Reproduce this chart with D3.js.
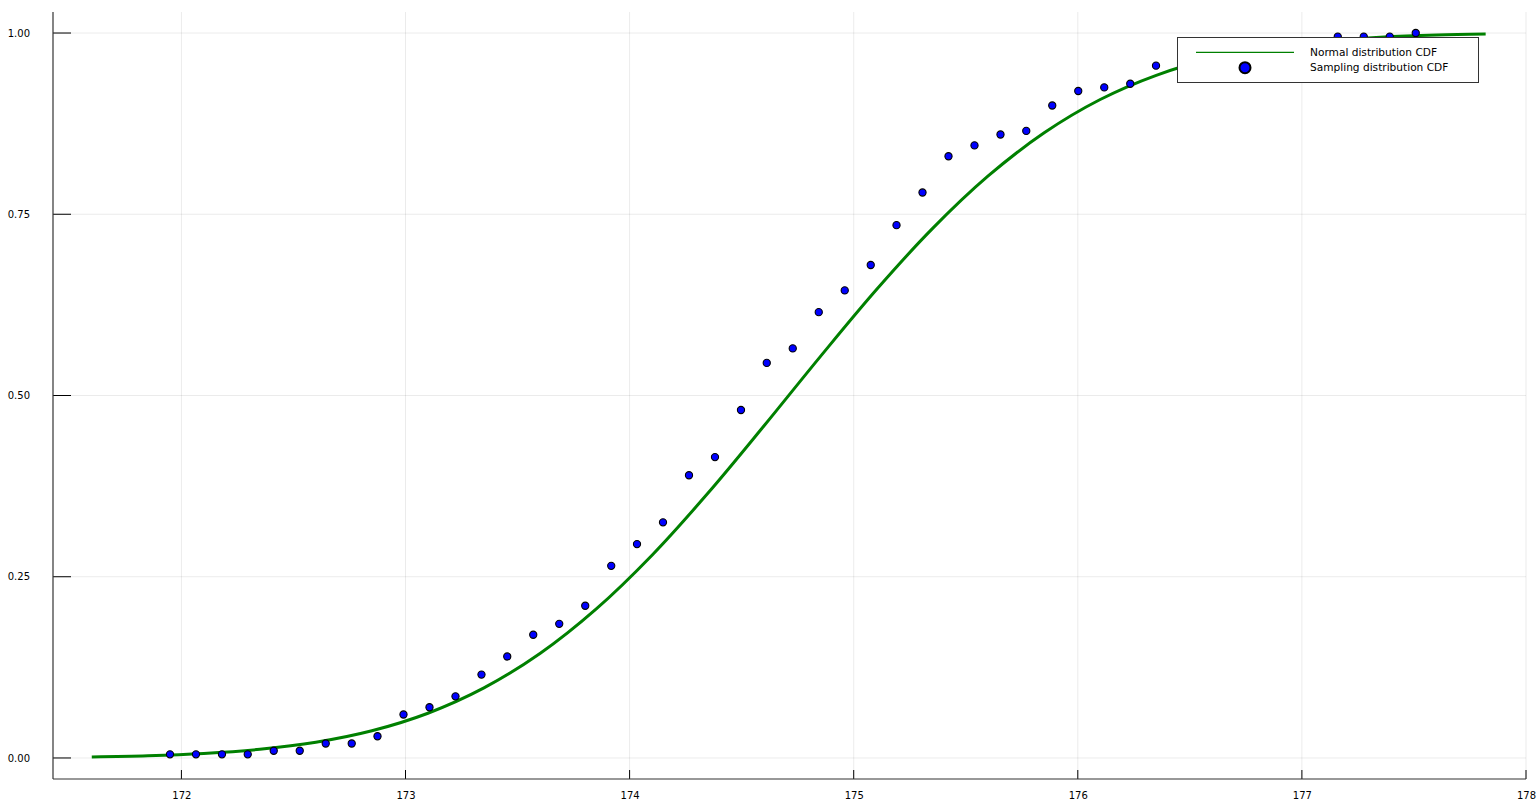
<!DOCTYPE html>
<html>
<head>
<meta charset="utf-8">
<script src="https://cdn.jsdelivr.net/npm/d3@7/dist/d3.min.js"></script>
<style>
  html, body { margin: 0; padding: 0; background: #ffffff; }
  svg { display: block; font-family: "DejaVu Sans", sans-serif; }
</style>
</head>
<body>
<script>
// ---- Data ----
const seriesNames = ["Normal distribution CDF", "Sampling distribution CDF"];

// Normal distribution CDF curve, sampled points
const normalX = [171.60, 171.85, 172.10, 172.35, 172.60, 172.85, 173.10, 173.35, 173.60,
                 173.85, 174.10, 174.35, 174.60, 174.85, 175.10, 175.35, 175.60, 175.85,
                 176.10, 176.35, 176.60, 176.85, 177.10, 177.35, 177.60, 177.82];
const normalY = [0.0015, 0.0031, 0.0063, 0.0120, 0.0217, 0.0375, 0.0617, 0.0966, 0.1441,
                 0.2053, 0.2797, 0.3654, 0.4582, 0.5533, 0.6455, 0.7298, 0.8028, 0.8624,
                 0.9083, 0.9417, 0.9648, 0.9797, 0.9889, 0.9942, 0.9972, 0.9985];

// Sampling distribution CDF points
const sampleX = [171.949, 172.065, 172.181, 172.296, 172.412, 172.528, 172.644, 172.760, 172.875,
                 172.991, 173.107, 173.223, 173.339, 173.454, 173.570, 173.686, 173.802, 173.918,
                 174.033, 174.149, 174.265, 174.381, 174.497, 174.612, 174.728, 174.844, 174.960,
                 175.076, 175.191, 175.307, 175.423, 175.539, 175.655, 175.770, 175.886, 176.002,
                 176.118, 176.234, 176.349, 176.465, 176.581, 176.697, 176.813, 176.928, 177.044,
                 177.160, 177.276, 177.392, 177.508];
const sampleY = [0.005, 0.005, 0.005, 0.005, 0.010, 0.010, 0.020, 0.020, 0.030,
                 0.060, 0.070, 0.085, 0.115, 0.140, 0.170, 0.185, 0.210, 0.265,
                 0.295, 0.325, 0.390, 0.415, 0.480, 0.545, 0.565, 0.615, 0.645,
                 0.680, 0.735, 0.780, 0.830, 0.845, 0.860, 0.865, 0.900, 0.920,
                 0.925, 0.930, 0.955, 0.965, 0.970, 0.975, 0.980, 0.980, 0.985,
                 0.995, 0.995, 0.995, 1.000];

const xTicks = [172, 173, 174, 175, 176, 177, 178];
const yTicks = [0, 0.25, 0.5, 0.75, 1.0];
const yTickLabels = ["0.00", "0.25", "0.50", "0.75", "1.00"];

// ---- Layout ----
const W = 1540, H = 810;
const mLeft = 53, mRight = 1526, mTop = 12, mBottom = 779;

const x = d3.scaleLinear().domain([171.427, 178.0]).range([mLeft, mRight]);
const y = d3.scaleLinear().domain([-0.029, 1.029]).range([mBottom, mTop]);

const svg = d3.select("body").append("svg")
  .attr("width", W).attr("height", H);

svg.append("rect").attr("width", W).attr("height", H).attr("fill", "#ffffff");

// Grid lines
const grid = svg.append("g");
grid.selectAll("line.gx").data(xTicks).enter().append("line")
  .attr("x1", d => x(d)).attr("x2", d => x(d))
  .attr("y1", mTop).attr("y2", mBottom)
  .attr("stroke", "#000").attr("stroke-opacity", 0.08).attr("stroke-width", 1);
grid.selectAll("line.gy").data(yTicks).enter().append("line")
  .attr("x1", mLeft).attr("x2", mRight)
  .attr("y1", d => y(d)).attr("y2", d => y(d))
  .attr("stroke", "#000").attr("stroke-opacity", 0.08).attr("stroke-width", 1);

// Axes
const xAxis = d3.axisBottom(x).tickValues(xTicks).tickFormat(d3.format("d")).tickSize(0).tickPadding(13);
const gx = svg.append("g").attr("transform", `translate(0,${mBottom})`).call(xAxis);
gx.select(".domain").remove();
gx.selectAll("text").attr("font-size", "10px").attr("fill", "#000").attr("font-family", "DejaVu Sans, sans-serif");

const yAxis = d3.axisLeft(y).tickValues(yTicks).tickFormat((d, i) => yTickLabels[i]).tickSize(0).tickPadding(23);
const gy = svg.append("g").attr("transform", `translate(${mLeft},0)`).call(yAxis);
gy.select(".domain").remove();
gy.selectAll("text").attr("font-size", "10px").attr("fill", "#000").attr("font-family", "DejaVu Sans, sans-serif");

// Tick marks (inward)
svg.append("g").selectAll("line").data(xTicks).enter().append("line")
  .attr("x1", d => x(d)).attr("x2", d => x(d))
  .attr("y1", mBottom).attr("y2", mBottom - 9)
  .attr("stroke", "#000").attr("stroke-width", 1);
svg.append("g").selectAll("line").data(yTicks).enter().append("line")
  .attr("x1", mLeft).attr("x2", mLeft + 18)
  .attr("y1", d => y(d)).attr("y2", d => y(d))
  .attr("stroke", "#000").attr("stroke-width", 1);

// Spines
svg.append("line").attr("x1", mLeft).attr("x2", mLeft).attr("y1", mTop).attr("y2", mBottom)
  .attr("stroke", "#333").attr("stroke-width", 1.2);
svg.append("line").attr("x1", mLeft).attr("x2", mRight).attr("y1", mBottom).attr("y2", mBottom)
  .attr("stroke", "#333").attr("stroke-width", 1.2);

// Normal CDF line
const lineData = normalX.map((v, i) => [v, normalY[i]]);
svg.append("path")
  .datum(lineData)
  .attr("fill", "none")
  .attr("stroke", "#008000")
  .attr("stroke-width", 3)
  .attr("stroke-linejoin", "round")
  .attr("d", d3.line().x(d => x(d[0])).y(d => y(d[1])).curve(d3.curveCatmullRom.alpha(0.5)));

// Sampling CDF points
const pts = sampleX.map((v, i) => [v, sampleY[i]]);
svg.append("g").selectAll("circle").data(pts).enter().append("circle")
  .attr("cx", d => x(d[0])).attr("cy", d => y(d[1]))
  .attr("r", 3.6)
  .attr("fill", "#0000ff")
  .attr("stroke", "#000").attr("stroke-width", 1.1);

// Legend
const lg = svg.append("g");
lg.append("rect")
  .attr("x", 1177.5).attr("y", 37.5).attr("width", 301).attr("height", 45)
  .attr("fill", "#ffffff").attr("stroke", "#333").attr("stroke-width", 1);
lg.append("line").attr("x1", 1196).attr("x2", 1294).attr("y1", 52.3).attr("y2", 52.3)
  .attr("stroke", "#008000").attr("stroke-width", 1.2);
lg.append("circle").attr("cx", 1245).attr("cy", 67.7).attr("r", 5.5)
  .attr("fill", "#0000ff").attr("stroke", "#000").attr("stroke-width", 2);
lg.selectAll("text").data(seriesNames).enter().append("text")
  .attr("x", 1310).attr("y", (d, i) => i === 0 ? 52.3 : 67.7)
  .attr("dy", "0.35em")
  .attr("font-size", "10.6px").attr("fill", "#000")
  .text(d => d);
</script>
</body>
</html>
